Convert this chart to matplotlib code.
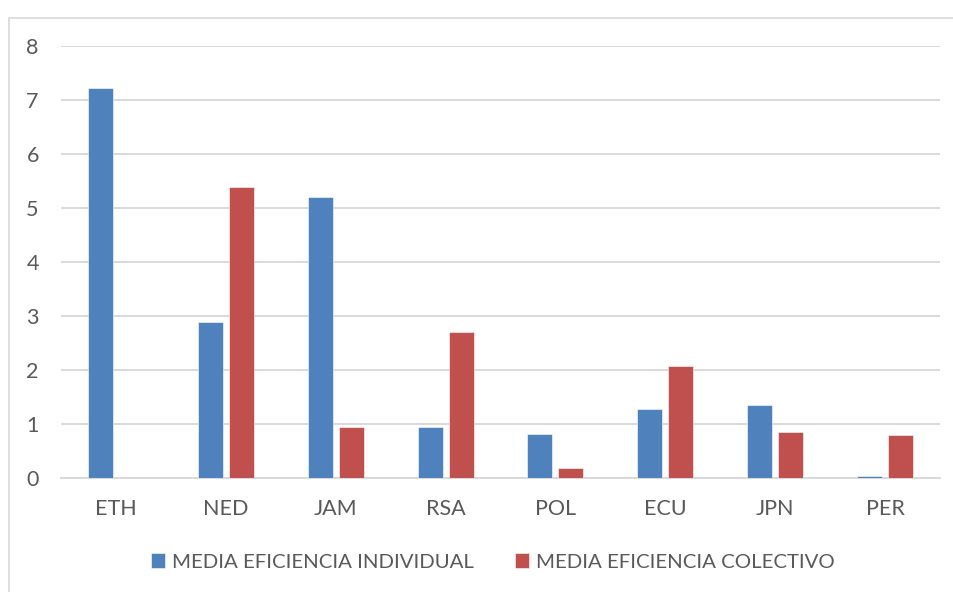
import numpy as np
import matplotlib.pyplot as plt
from matplotlib.patches import Rectangle

# datos
paises = ['ETH', 'NED', 'JAM', 'RSA', 'POL', 'ECU', 'JPN', 'PER']
individual = [7.22, 2.88, 5.21, 0.95, 0.81, 1.27, 1.36, 0.04]
colectivo = [0.0, 5.38, 0.95, 2.71, 0.19, 2.08, 0.86, 0.79]
yticks = [0, 1, 2, 3, 4, 5, 6, 7, 8]

plt.rcParams['font.family'] = ['Lato', 'DejaVu Sans']
gris = '#595959'

fig = plt.figure(figsize=(9.54, 5.92), dpi=100)
ax = fig.add_axes([61/954, 1-478/592, 879/954, 432/592])

x = np.arange(len(paises))
w = 0.227
off = 0.141
ax.bar(x - off, individual, w, color='#4f81bd', edgecolor='white', linewidth=0.4,
       label='MEDIA EFICIENCIA INDIVIDUAL', zorder=3)
ax.bar(x + off, colectivo, w, color='#c0504d', edgecolor='white', linewidth=0.4,
       label='MEDIA EFICIENCIA COLECTIVO', zorder=3)

ax.set_xlim(-0.5, len(paises) - 0.5)
ax.set_ylim(0, 8)
ax.set_yticks(yticks)
ax.set_xticks(x)
ax.set_xticklabels(paises)
ax.tick_params(axis='both', length=0, labelsize=15.5, colors=gris)
ax.tick_params(axis='y', pad=16)
ax.tick_params(axis='x', pad=15)
ax.grid(axis='y', color='#d9d9d9', linewidth=1.4, zorder=0)
for s in ['top', 'right', 'left']:
    ax.spines[s].set_visible(False)
ax.spines['bottom'].set_color('#d9d9d9')
ax.spines['bottom'].set_linewidth(1.4)

leg = fig.legend(loc='center', bbox_to_anchor=(493/954, 1-562/592), ncol=2, frameon=False,
                 fontsize=14.7, handlelength=0.7, handleheight=0.7, handletextpad=0.35,
                 columnspacing=2.0)
for t in leg.get_texts():
    t.set_color(gris)

# marco del area del grafico
fig.patches.append(Rectangle((9/954, -0.1), 1.0, 1.1 - 18/592, transform=fig.transFigure,
                             fill=False, edgecolor='#d9d9d9', linewidth=1.2))

fig.savefig('out.png', dpi=100)
